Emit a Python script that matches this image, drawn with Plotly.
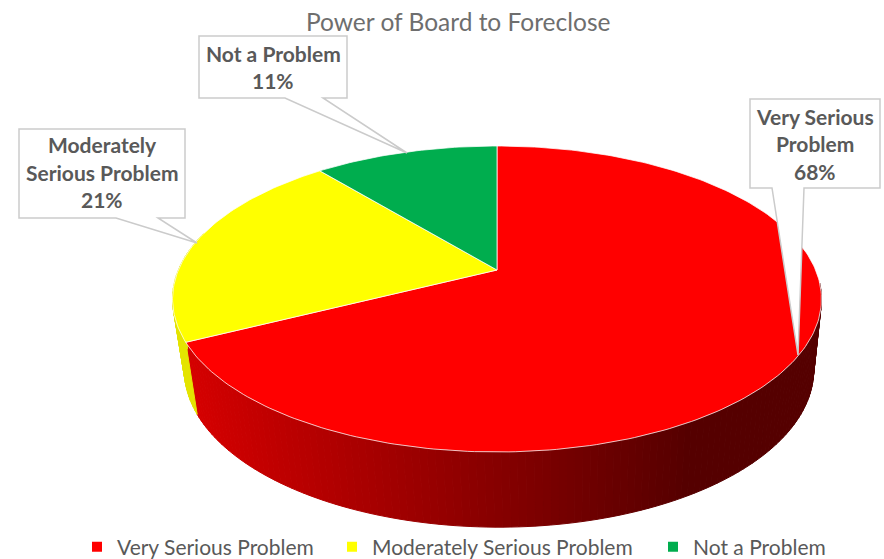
import math
import plotly.graph_objects as go

categories = ["Very Serious Problem", "Moderately Serious Problem", "Not a Problem"]
label_lines = [["Very Serious", "Problem"], ["Moderately", "Serious Problem"], ["Not a Problem"]]
values = [67.6, 21.4, 11.0]
colors = ["#FF0000", "#FFFF00", "#00AD4E"]
title_text = "Power of Board to Foreclose"

# The figure is a little taller than the window so the bottom legend keeps clear of
# plotly's automatic margin; axis units equal page pixels.
PAGE_W, PAGE_H, FIG_H = 884, 559, 585
K = 0.1895
TOP = dict(cx=497.0, cy=270.0, bx=318.6, ay=147.5)
BOT = dict(cx=499.0, cy=340.0, bx=309.0, ay=151.7)


def project(theta, p):
    X, Y = math.sin(theta), math.cos(theta)
    w = 1 + K * Y
    return p["cx"] + p["bx"] * X / w, p["cy"] - p["ay"] * Y / w


def side_color(i, x):
    t = min(max((x - 190.0) / 500.0, 0.0), 1.0)
    if i == 0:
        return f"rgb({round(212 - t * 127)},0,0)"
    return "rgb(228,228,0)"


total = sum(values)
edges = [0.0]
for v in values:
    edges.append(edges[-1] + v / total * 2 * math.pi)

fig = go.Figure()

# side wall strips
vis_a, vis_b = math.radians(95), math.radians(285)
for i in range(len(values)):
    a, b = max(edges[i], vis_a), min(edges[i + 1], vis_b)
    if b <= a:
        continue
    n = max(2, int((b - a) / math.radians(1.2)))
    for j in range(n):
        t0, t1 = a + (b - a) * j / n, a + (b - a) * (j + 1) / n
        p = [project(t0, TOP), project(t1, TOP), project(t1, BOT), project(t0, BOT), project(t0, TOP)]
        c = side_color(i, (p[0][0] + p[1][0]) / 2)
        fig.add_trace(go.Scatter(
            x=[q[0] for q in p], y=[q[1] for q in p], mode="lines", fill="toself",
            fillcolor=c, line=dict(color=c, width=1), hoverinfo="skip", showlegend=False))

# top faces
for i in range(len(values)):
    n = max(4, int((edges[i + 1] - edges[i]) / math.radians(1)))
    pts = [project(edges[i] + (edges[i + 1] - edges[i]) * j / n, TOP) for j in range(n + 1)]
    xs = [TOP["cx"]] + [q[0] for q in pts] + [TOP["cx"]]
    ys = [TOP["cy"]] + [q[1] for q in pts] + [TOP["cy"]]
    fig.add_trace(go.Scatter(
        x=xs, y=ys, mode="lines", fill="toself", fillcolor=colors[i],
        line=dict(color="rgba(255,255,255,0.75)", width=1),
        name=categories[i], hoverinfo="name", showlegend=False))

# legend keys, one legend per key so each can sit where the reference has it
legend_ids = ["legend", "legend2", "legend3"]
legend_text_x = [117, 372, 693]
for name, c, lid in zip(categories, colors, legend_ids):
    fig.add_trace(go.Scatter(
        x=[None], y=[None], mode="markers", name=name, legend=lid,
        marker=dict(symbol="square", size=10, color=c)))

# callouts: box x0,y0,x1,y1, pointer base a,b, tip
callouts = [
    (750, 99, 880, 188, 772, 804, (798, 355), (815, 116)),
    (19, 129, 185, 218, 116, 158, (197, 243), (102, 144.5)),
    (199, 36, 347, 98, 285, 323, (407, 153), (273, 53)),
]
shapes = []
annotations = []
for k, (x0, y0, x1, y1, a, b, tip, txt) in enumerate(callouts):
    path = f"M{x0},{y0} L{x1},{y0} L{x1},{y1} L{b},{y1} L{tip[0]},{tip[1]} L{a},{y1} L{x0},{y1} Z"
    shapes.append(dict(type="path", path=path, xref="x", yref="y", fillcolor="white",
                       line=dict(color="#CBCBCB", width=1.5), layer="above"))
    lines = label_lines[k] + [f"{round(values[k] / total * 100)}%"]
    for m, line in enumerate(lines):
        annotations.append(dict(
            x=txt[0], y=txt[1] + m * 27.5, xref="x", yref="y", text=f"<b>{line}</b>",
            showarrow=False, xanchor="center", yanchor="middle",
            font=dict(family="Lato", size=21, color="#595959")))

annotations.append(dict(
    x=457.5, y=21, xref="x", yref="y", text=title_text, showarrow=False,
    xanchor="center", yanchor="middle", font=dict(family="Lato", size=24.5, color="#6E6E6E")))

fig.update_layout(
    width=PAGE_W, height=FIG_H, margin=dict(l=0, r=0, t=0, b=0),
    paper_bgcolor="white", plot_bgcolor="white",
    xaxis=dict(range=[0, PAGE_W], visible=False, fixedrange=True),
    yaxis=dict(range=[FIG_H, 0], visible=False, fixedrange=True),
    shapes=shapes, annotations=annotations,
)
for lid, tx in zip(legend_ids, legend_text_x):
    fig.update_layout({lid: dict(
        orientation="h", x=(tx - 40) / PAGE_W, y=(FIG_H - 547) / FIG_H,
        xanchor="left", yanchor="middle", bgcolor="rgba(0,0,0,0)",
        font=dict(family="Lato", size=21, color="#595959"),
        itemclick=False, itemdoubleclick=False)})
fig.write_html(
    "out.html",
    config={"displayModeBar": False},
    post_script="document.documentElement.style.overflow='hidden';"
                "document.body.style.margin='0';document.body.style.overflow='hidden';",
)
